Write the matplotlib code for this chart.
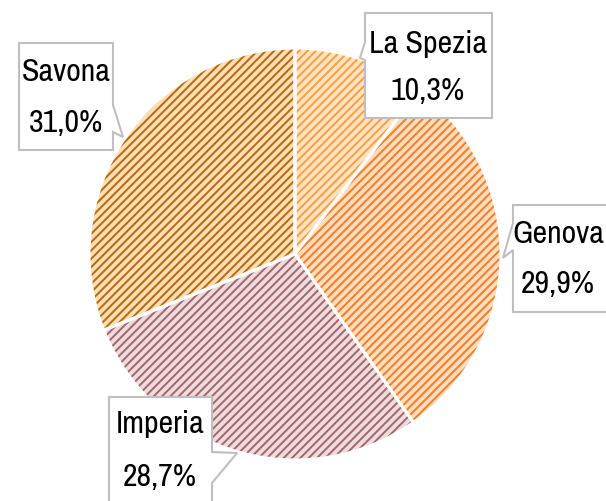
import matplotlib
matplotlib.use('Agg')
import matplotlib.pyplot as plt
from matplotlib.patches import Polygon
from matplotlib import font_manager

labels = ['La Spezia', 'Genova', 'Imperia', 'Savona']
values = [10.3, 29.9, 28.7, 31.0]
pct_labels = ['10,3%', '29,9%', '28,7%', '31,0%']
face_colors = ['#FFE3C4', '#FDDCC0', '#EEDCDD', '#FDDDB2']
hatch_colors = ['#FF9E3A', '#F47E20', '#A4646C', '#B56A12']

# choose a narrow font if one is installed
narrow = None
for f in font_manager.fontManager.ttflist:
    if 'Narrow' in f.name:
        narrow = f.name
        break
stretch = 'normal'
if narrow is None:
    narrow = 'DejaVu Sans'
    stretch = 'condensed'

plt.rcParams['hatch.linewidth'] = 1.4
plt.rcParams['font.family'] = [narrow, 'DejaVu Sans']

W, H = 606, 501
fig = plt.figure(figsize=(6.06, 5.01), dpi=100)
ax = fig.add_axes([0, 0, 1, 1])


def P(x, y):
    return (x, H - y)


center = P(295, 254)
R = 206
wedges, _ = ax.pie(values, radius=R, center=center, startangle=90,
                   counterclock=False, colors=face_colors,
                   wedgeprops=dict(linewidth=0))
for w, hc in zip(wedges, hatch_colors):
    w.set_hatch('////')
    w.set_edgecolor(hc)
    w.set_linewidth(0)
ax.pie(values, radius=R, center=center, startangle=90, counterclock=False,
       wedgeprops=dict(fill=False, edgecolor='white', linewidth=2.2))

# callout boxes (layout in pixel coordinates)
callouts = {
    'La Spezia': [(365, 13), (492, 13), (492, 118), (365, 118), (365, 60),
                  (360, 58), (365, 42)],
    'Genova': [(513, 205), (640, 205), (640, 312), (513, 312), (513, 250),
               (503, 258), (513, 223)],
    'Imperia': [(109, 397), (212, 397), (212, 452), (237, 453), (212, 483),
                (212, 540), (109, 540)],
    'Savona': [(19, 43), (113, 43), (113, 105), (123, 137), (113, 132),
               (113, 150), (19, 150)],
}
text_pos = {
    'La Spezia': (428, 44, 91),
    'Genova': (558, 234, 284),
    'Imperia': (160, 424, 477),
    'Savona': (66, 72, 123),
}
for lab, pct in zip(labels, pct_labels):
    pts = [P(x, y) for x, y in callouts[lab]]
    ax.add_patch(Polygon(pts, closed=True, facecolor='white',
                         edgecolor='#BFBFBF', linewidth=1.5, zorder=5,
                         clip_on=False))
    x, y1, y2 = text_pos[lab]
    ax.text(*P(x, y1), lab, ha='center', va='center', fontsize=23,
            fontstretch=stretch, color='black', zorder=6)
    ax.text(*P(x, y2), pct, ha='center', va='center', fontsize=23,
            fontstretch=stretch, color='black', zorder=6)

ax.set_xlim(0, W)
ax.set_ylim(0, H)
ax.set_aspect('auto')
ax.axis('off')
fig.savefig('out.png', dpi=100)
